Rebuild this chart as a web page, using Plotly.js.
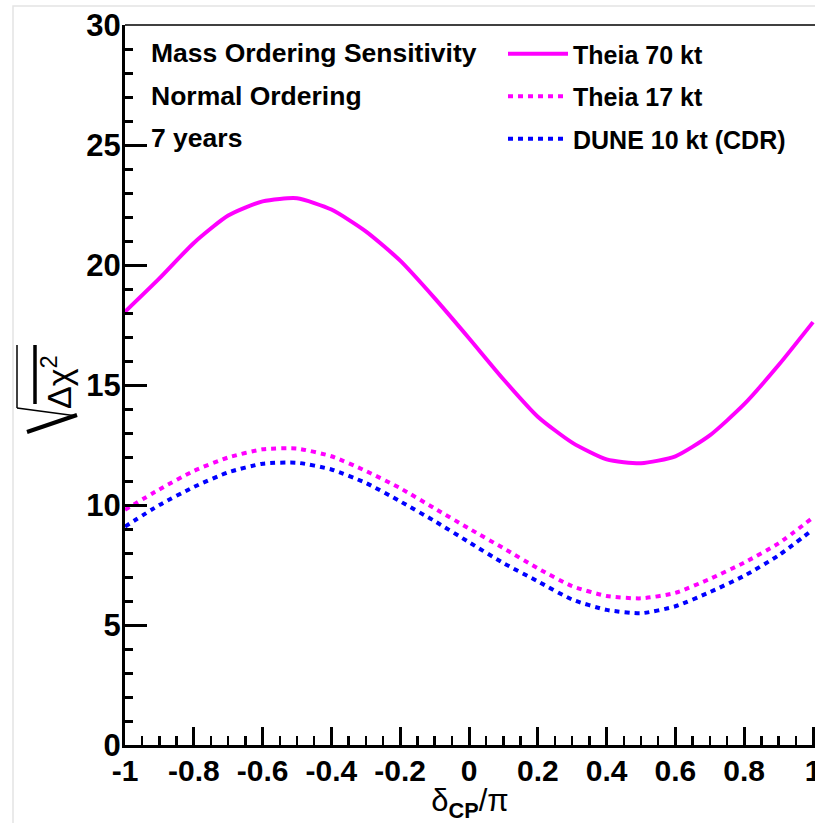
<!DOCTYPE html>
<html>
<head>
<meta charset="utf-8">
<script src="https://cdn.plot.ly/plotly-3.0.1.min.js"></script>
<style>html,body{margin:0;padding:0;background:#fff;}#chart{width:815px;height:823px;}</style>
</head>
<body>
<div id="chart"></div>
<script>
// ---- data ----
const deltaCP = [-1,-0.9,-0.8,-0.7,-0.6,-0.5,-0.4,-0.3,-0.2,-0.1,0,0.1,0.2,0.3,0.4,0.5,0.6,0.7,0.8,0.9,1.0];
const theia70 = [18.05,19.44,20.92,22.06,22.65,22.78,22.31,21.40,20.18,18.62,16.95,15.24,13.68,12.60,11.90,11.74,12.03,12.90,14.20,15.83,17.62];
const theia17 = [9.80,10.65,11.42,11.98,12.32,12.35,12.03,11.42,10.70,9.86,9.02,8.20,7.36,6.62,6.21,6.11,6.34,6.92,7.60,8.40,9.48];
const dune10  = [9.10,10.00,10.75,11.36,11.72,11.76,11.48,10.92,10.15,9.33,8.45,7.58,6.82,6.06,5.63,5.49,5.78,6.37,7.05,7.90,8.98];
const seriesNames = ["Theia 70 kt","Theia 17 kt","DUNE 10 kt (CDR)"];
const xTickVals = [-1,-0.8,-0.6,-0.4,-0.2,0,0.2,0.4,0.6,0.8,1];
const xTickText = ["-1","-0.8","-0.6","-0.4","-0.2","0","0.2","0.4","0.6","0.8","1"];
const yTickVals = [0,5,10,15,20,25,30];
const headerLines = ["Mass Ordering Sensitivity","Normal Ordering","7 years"];

// ---- layout geometry helpers (pixel -> paper) ----
const W = 815, H = 823, L = 125, R = 0, T = 25, B = 78;
const PW = W - L - R, PH = H - T - B;
const px = x => (x - L) / PW;
const py = y => (H - B - y) / PH;
const FONT = "Liberation Sans, Arial, Helvetica, sans-serif";

const traces = [
  {x: deltaCP, y: theia70, name: seriesNames[0], mode: "lines", legendgroup: "a",
   line: {color: "#ff00ff", width: 4, shape: "spline", smoothing: 0.6}},
  {x: deltaCP, y: theia17, name: seriesNames[1], mode: "lines", legendgroup: "b",
   line: {color: "#ff00ff", width: 4, dash: "5px,5px", shape: "spline", smoothing: 0.6}},
  {x: deltaCP, y: dune10, name: seriesNames[2], mode: "lines", legendgroup: "c",
   line: {color: "#0000ff", width: 4, dash: "5px,5px", shape: "spline", smoothing: 0.6}}
];

const headerY = [53, 96, 138];
const annotations = headerLines.map((t, i) => ({
  text: "<b>" + t + "</b>", xref: "paper", yref: "paper",
  x: px(149), y: py(headerY[i]), xanchor: "left", yanchor: "middle",
  showarrow: false, font: {family: FONT, size: 26.5, color: "#000"}
}));
annotations.push({
  text: "Δχ<sup>2</sup>", xref: "paper", yref: "paper", textangle: -90,
  x: px(56), y: py(382), xanchor: "center", yanchor: "middle",
  showarrow: false, font: {family: FONT, size: 34, color: "#000"}
});

const ln = (x0, y0, x1, y1, w, c) => ({type: "line", xref: "paper", yref: "paper",
  x0: px(x0), y0: py(y0), x1: px(x1), y1: py(y1), line: {color: c || "#000", width: w}});

const shapes = [
  // faint outer frame of the original image
  {type: "rect", xref: "paper", yref: "paper", x0: px(13), y0: py(840), x1: px(840), y1: py(6),
   line: {color: "#e4e4e4", width: 1.5}, layer: "below"},
  // thin top frame line
  ln(125, 25, 820, 25, 1.5),
  // radical sign of sqrt(Δχ²)
  ln(17, 345, 17, 408, 1.5),
  ln(17, 408, 77, 416, 1.5),
  ln(27, 432, 77, 415, 4),
  ln(35, 345, 35, 404, 3.5)
];

const layout = {
  width: W, height: H,
  margin: {l: L, r: R, t: T, b: B, pad: 0},
  paper_bgcolor: "#fff", plot_bgcolor: "#fff",
  font: {family: FONT, color: "#000"},
  showlegend: true,
  legend: {x: px(503), y: py(31), xanchor: "left", yanchor: "top",
    bgcolor: "rgba(0,0,0,0)", borderwidth: 0, itemwidth: 60, tracegroupgap: 7,
    font: {family: FONT, size: 25, color: "#000", weight: "bold"}},
  xaxis: {
    range: [-1, -1 + PW / 344], showgrid: false, zeroline: false,
    showline: true, linecolor: "#000", linewidth: 3,
    tickmode: "array", tickvals: xTickVals, ticktext: xTickText,
    ticks: "inside", ticklen: 18, tickwidth: 3, tickcolor: "#000",
    minor: {tick0: -1, dtick: 0.05, ticks: "inside", ticklen: 9, tickwidth: 2.5, tickcolor: "#000", showgrid: false},
    tickfont: {family: FONT, size: 30, color: "#000", weight: "bold"},
    ticklabelstandoff: -3, ticklabeloverflow: "allow",
    title: {text: "δ<sub><b>CP</b></sub>/π", font: {family: FONT, size: 31, color: "#000"}, standoff: 1}
  },
  yaxis: {
    range: [0, 30], showgrid: false, zeroline: false,
    showline: true, linecolor: "#000", linewidth: 3,
    tickmode: "array", tickvals: yTickVals,
    ticks: "inside", ticklen: 22, tickwidth: 3, tickcolor: "#000",
    minor: {tick0: 0, dtick: 1, ticks: "inside", ticklen: 8, tickwidth: 3, tickcolor: "#000", showgrid: false},
    tickfont: {family: FONT, size: 31, color: "#000", weight: "bold"},
    ticklabelstandoff: -5
  },
  annotations: annotations,
  shapes: shapes
};

Plotly.newPlot("chart", traces, layout, {displayModeBar: false, staticPlot: true});
</script>
</body>
</html>
